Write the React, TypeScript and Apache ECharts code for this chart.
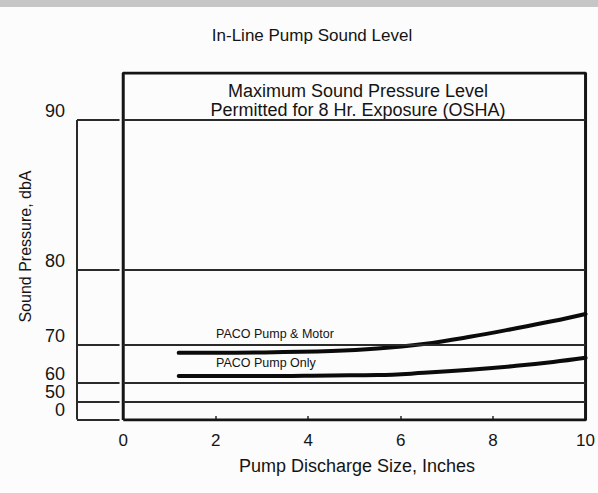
import React, { useEffect, useRef } from "react";
import * as echarts from "echarts";

// ---- data ----
const xTickLabels = [0, 2, 4, 6, 8, 10];
const xInnerTicks = [2, 4, 6, 8];
const yTickDb = [0, 50, 60, 70, 80, 90];
const levelLinesDb = [50, 60, 70, 80, 90];
const leftFrameDb = [0, 50, 60, 70, 80, 90];

const motorSize = [1.2, 3, 4.5, 5.5, 6.5, 7.5, 8.5, 9.3, 10];
const motorDb = [68.4, 68.5, 68.8, 69.3, 70.2, 71.5, 72.9, 74.0, 75.0];
const pumpSize = [1.2, 3, 4.5, 5.5, 6.5, 7.5, 8.5, 9.3, 10];
const pumpDb = [62.3, 62.3, 62.5, 62.6, 63.3, 64.2, 65.3, 66.3, 67.3];

const oshaLines = ["Maximum Sound Pressure Level", "Permitted for 8 Hr. Exposure (OSHA)"];

const X_LEFT = -1;
const X_GAP = -0.08;
const X_MAIN = 0;
const X_MAX = 10;
const TOP_DB = 92.1;

// loudness scale (sones): doubles every 10 dB
const toScale = (db: number) => Math.pow(2, (db - 40) / 10);
const toDb = (s: number) => Math.round(40 + 10 * Math.log2(s));

const Y_MIN = 0;
const Y_MAX = toScale(TOP_DB);

const FONT = '"Liberation Sans", Arial, sans-serif';
const INK = "#141414";
const LINE = "#2a2a2a";

export default function App() {
  const ref = useRef<HTMLDivElement>(null);

  useEffect(() => {
    if (!ref.current) return;
    const chart = echarts.init(ref.current, null, { renderer: "svg" });

    const levelSegs: any[] = [];
    leftFrameDb.forEach((db) => {
      const y = toScale(db);
      levelSegs.push([{ coord: [X_LEFT, y] }, { coord: [X_GAP, y] }]);
    });
    levelLinesDb.forEach((db) => {
      const y = toScale(db);
      levelSegs.push([{ coord: [X_MAIN, y] }, { coord: [X_MAX, y] }]);
    });
    levelSegs.push([
      { coord: [X_LEFT, toScale(0)] },
      { coord: [X_LEFT, toScale(90)] },
    ]);

    const centered = (text: string, x: number, y: number, size: number) => ({
      type: "text",
      x,
      y,
      style: {
        text,
        font: `${size}px ${FONT}`,
        fill: INK,
        align: "center",
        verticalAlign: "middle",
        textAlign: "center",
        textVerticalAlign: "middle",
      },
    });

    const option: any = {
      animation: false,
      backgroundColor: "#fcfcfc",
      grid: { left: 77, right: 8, top: 73, bottom: 73, containLabel: false },
      xAxis: {
        type: "value",
        min: X_LEFT,
        max: X_MAX,
        axisLine: { show: false },
        splitLine: { show: false },
        axisTick: {
          show: true,
          inside: true,
          length: 4,
          customValues: xInnerTicks,
          lineStyle: { color: LINE, width: 1.5 },
        },
        axisLabel: {
          customValues: xTickLabels,
          margin: 12,
          fontSize: 17,
          fontFamily: FONT,
          color: INK,
        },
      },
      yAxis: {
        type: "value",
        min: Y_MIN,
        max: Y_MAX,
        name: "Sound Pressure, dbA",
        nameLocation: "middle",
        nameGap: 44,
        nameTextStyle: { fontSize: 16, fontFamily: FONT, color: INK },
        axisLine: { show: false },
        splitLine: { show: false },
        axisTick: { show: false },
        axisLabel: {
          customValues: yTickDb.map(toScale),
          formatter: (v: number) => String(toDb(v)),
          margin: 12,
          verticalAlign: "bottom",
          fontSize: 18,
          fontFamily: FONT,
          color: INK,
        },
      },
      graphic: [
        {
          type: "rect",
          left: 0,
          top: 0,
          shape: { width: 598, height: 7 },
          style: { fill: "#c6c6c6" },
          silent: true,
        },
        centered("In-Line Pump Sound Level", 312, 35, 17),
        centered(oshaLines[0], 358, 90.5, 18),
        centered(oshaLines[1], 358, 109.5, 18),
        centered("Pump Discharge Size, Inches", 357, 466, 18),
        {
          type: "text",
          x: 216,
          y: 334,
          style: {
            text: "PACO Pump & Motor",
            font: `12.5px ${FONT}`,
            fill: INK,
            verticalAlign: "middle",
            textVerticalAlign: "middle",
          },
        },
        {
          type: "text",
          x: 216,
          y: 363,
          style: {
            text: "PACO Pump Only",
            font: `12.5px ${FONT}`,
            fill: INK,
            verticalAlign: "middle",
            textVerticalAlign: "middle",
          },
        },
      ],
      series: [
        {
          name: "levels",
          type: "line",
          data: [],
          silent: true,
          markLine: {
            silent: true,
            symbol: "none",
            label: { show: false },
            lineStyle: { color: LINE, width: 2, type: "solid" },
            data: levelSegs,
          },
        },
        {
          name: "frame",
          type: "line",
          silent: true,
          symbol: "none",
          lineStyle: { color: "#151515", width: 3 },
          data: [
            [X_MAIN, Y_MIN],
            [X_MAIN, Y_MAX],
            [X_MAX, Y_MAX],
            [X_MAX, Y_MIN],
            [X_MAIN, Y_MIN],
          ],
        },
        {
          name: "PACO Pump & Motor",
          type: "line",
          smooth: 0.4,
          symbol: "none",
          lineStyle: { color: "#0b0b0b", width: 4, cap: "round" },
          data: motorSize.map((x, i) => [x, toScale(motorDb[i])]),
        },
        {
          name: "PACO Pump Only",
          type: "line",
          smooth: 0.4,
          symbol: "none",
          lineStyle: { color: "#0b0b0b", width: 4, cap: "round" },
          data: pumpSize.map((x, i) => [x, toScale(pumpDb[i])]),
        },
      ],
    };

    chart.setOption(option);
    return () => chart.dispose();
  }, []);

  return (
    <div
      ref={ref}
      style={{ position: "fixed", left: 0, top: 0, width: 598, height: 493 }}
    />
  );
}
